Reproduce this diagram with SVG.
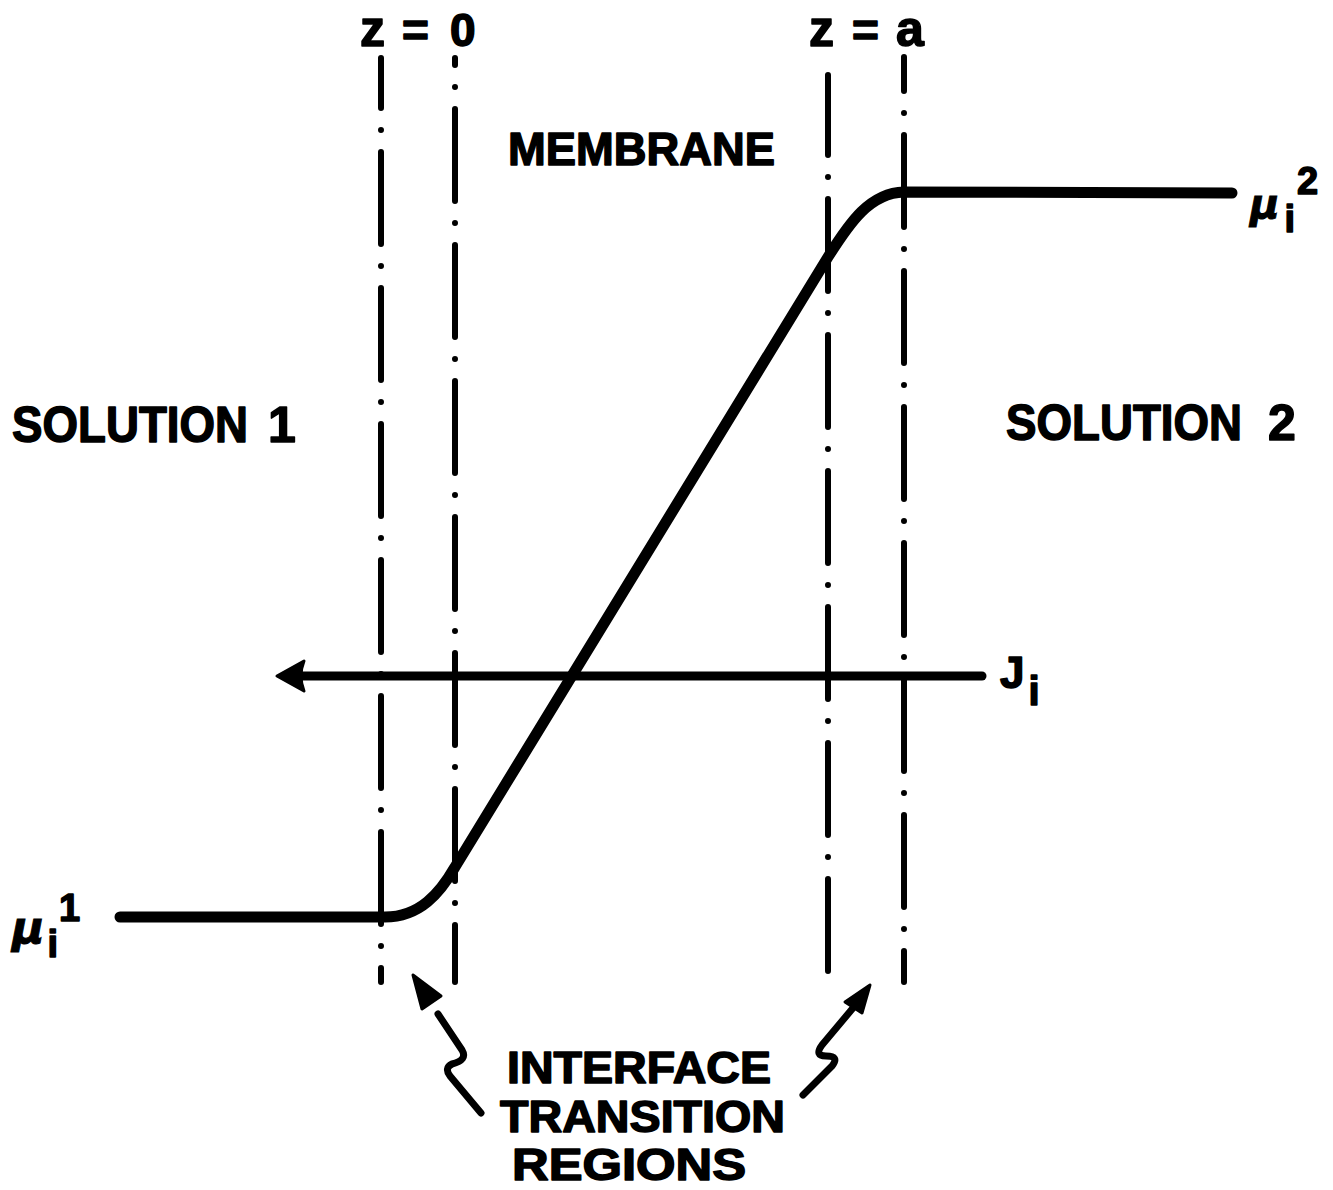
<svg xmlns="http://www.w3.org/2000/svg" width="1333" height="1190" viewBox="0 0 1333 1190">
  <style>
    .lbl { font-family: "Liberation Sans", Arial, sans-serif; font-weight: bold; fill: #000; stroke: #000; stroke-width: 1.5; stroke-linejoin: round; }
    .greek { font-family: "DejaVu Sans", sans-serif; font-weight: bold; font-style: italic; fill: #000; stroke: #000; stroke-width: 1; }
    .bound { fill: none; stroke: #000; stroke-width: 6; stroke-linecap: round; stroke-dasharray: 92 22 0 22; }
    .curve { fill: none; stroke: #000; stroke-width: 11; stroke-linecap: round; stroke-linejoin: round; }
    .flux { fill: none; stroke: #000; stroke-width: 9; stroke-linecap: round; }
    .pointer { fill: none; stroke: #000; stroke-width: 7; stroke-linecap: round; stroke-linejoin: round; }
    .head { fill: #000; stroke: #000; stroke-width: 3; stroke-linejoin: round; }
  </style>
  <rect width="1333" height="1190" fill="#fff"/>

  <!-- interface boundary lines (dash-dot) -->
  <g id="boundaries">
    <line class="bound" x1="381" y1="58" x2="381" y2="982" stroke-dashoffset="42"/>
    <line class="bound" x1="455" y1="58" x2="455" y2="982" stroke-dashoffset="85"/>
    <line class="bound" x1="828" y1="75" x2="828" y2="982" stroke-dashoffset="12"/>
    <line class="bound" x1="904" y1="57" x2="904" y2="982" stroke-dashoffset="58"/>
  </g>

  <!-- boundary labels -->
  <g id="label-z0">
    <text class="lbl" y="46" font-size="46"><tspan x="360" font-size="50">z</tspan><tspan x="402">=</tspan><tspan x="450">0</tspan></text>
  </g>
  <g id="label-za">
    <text class="lbl" y="46" font-size="46"><tspan x="809" font-size="50">z</tspan><tspan x="852">=</tspan><tspan x="896" font-size="50">a</tspan></text>
  </g>

  <g id="membrane">
    <text class="lbl" x="508" y="165" font-size="46" textLength="267" lengthAdjust="spacingAndGlyphs">MEMBRANE</text>
  </g>
  <g id="solution1">
    <text class="lbl" x="12" y="442" font-size="50" textLength="236" lengthAdjust="spacingAndGlyphs">SOLUTION</text>
    <text class="lbl" x="268" y="442" font-size="50">1</text>
  </g>
  <g id="solution2">
    <text class="lbl" x="1006" y="440" font-size="50" textLength="236" lengthAdjust="spacingAndGlyphs">SOLUTION</text>
    <text class="lbl" x="1268" y="440" font-size="50">2</text>
  </g>

  <g id="mu1">
    <text class="greek" x="12" y="943" font-size="44">μ<tspan class="lbl" font-style="normal" font-size="38" dx="3" dy="14">i</tspan><tspan class="lbl" font-style="normal" font-size="38" dx="1" dy="-36">1</tspan></text>
  </g>
  <g id="mu2">
    <text class="greek" x="1250" y="218" font-size="40">μ<tspan class="lbl" font-style="normal" font-size="38" dx="5" dy="14">i</tspan><tspan class="lbl" font-style="normal" font-size="38" dx="2" dy="-38">2</tspan></text>
  </g>
  <g id="flux-label">
    <text class="lbl" x="1000" y="688" font-size="44">J<tspan font-size="40" dx="4" dy="17">i</tspan></text>
  </g>

  <g id="interface-label">
    <text class="lbl" x="507" y="1083" font-size="44" textLength="264" lengthAdjust="spacingAndGlyphs">INTERFACE</text>
    <text class="lbl" x="500" y="1132" font-size="44" textLength="285" lengthAdjust="spacingAndGlyphs">TRANSITION</text>
    <text class="lbl" x="512" y="1180" font-size="44" textLength="234" lengthAdjust="spacingAndGlyphs">REGIONS</text>
  </g>

  <!-- chemical potential profile, flux and pointers -->
  <g id="connectors">
    <path id="potential-profile" class="curve" d="M120 917 L385 917 C420 917 440 893 455 867 L828 257 C850 222 870 193 904 192 L1232 193"/>
    <g id="flux-arrow">
      <line class="flux" x1="296" y1="676" x2="982" y2="676"/>
      <path class="head" d="M277 676 L304 661 Q298 676 304 691 Z"/>
    </g>
    <g id="pointer-left">
      <path class="pointer" d="M438 1014 L462 1050 Q468 1060 452 1064 Q444 1068 450 1076 L481 1113"/>
      <path class="head" d="M413 975 L441 996 L422 1009 Z"/>
    </g>
    <g id="pointer-right">
      <path class="pointer" d="M853 1008 L822 1045 Q814 1056 826 1056 Q840 1056 832 1066 L803 1095"/>
      <path class="head" d="M870 985 L845 1002 L862 1013 Z"/>
    </g>
  </g>
</svg>
